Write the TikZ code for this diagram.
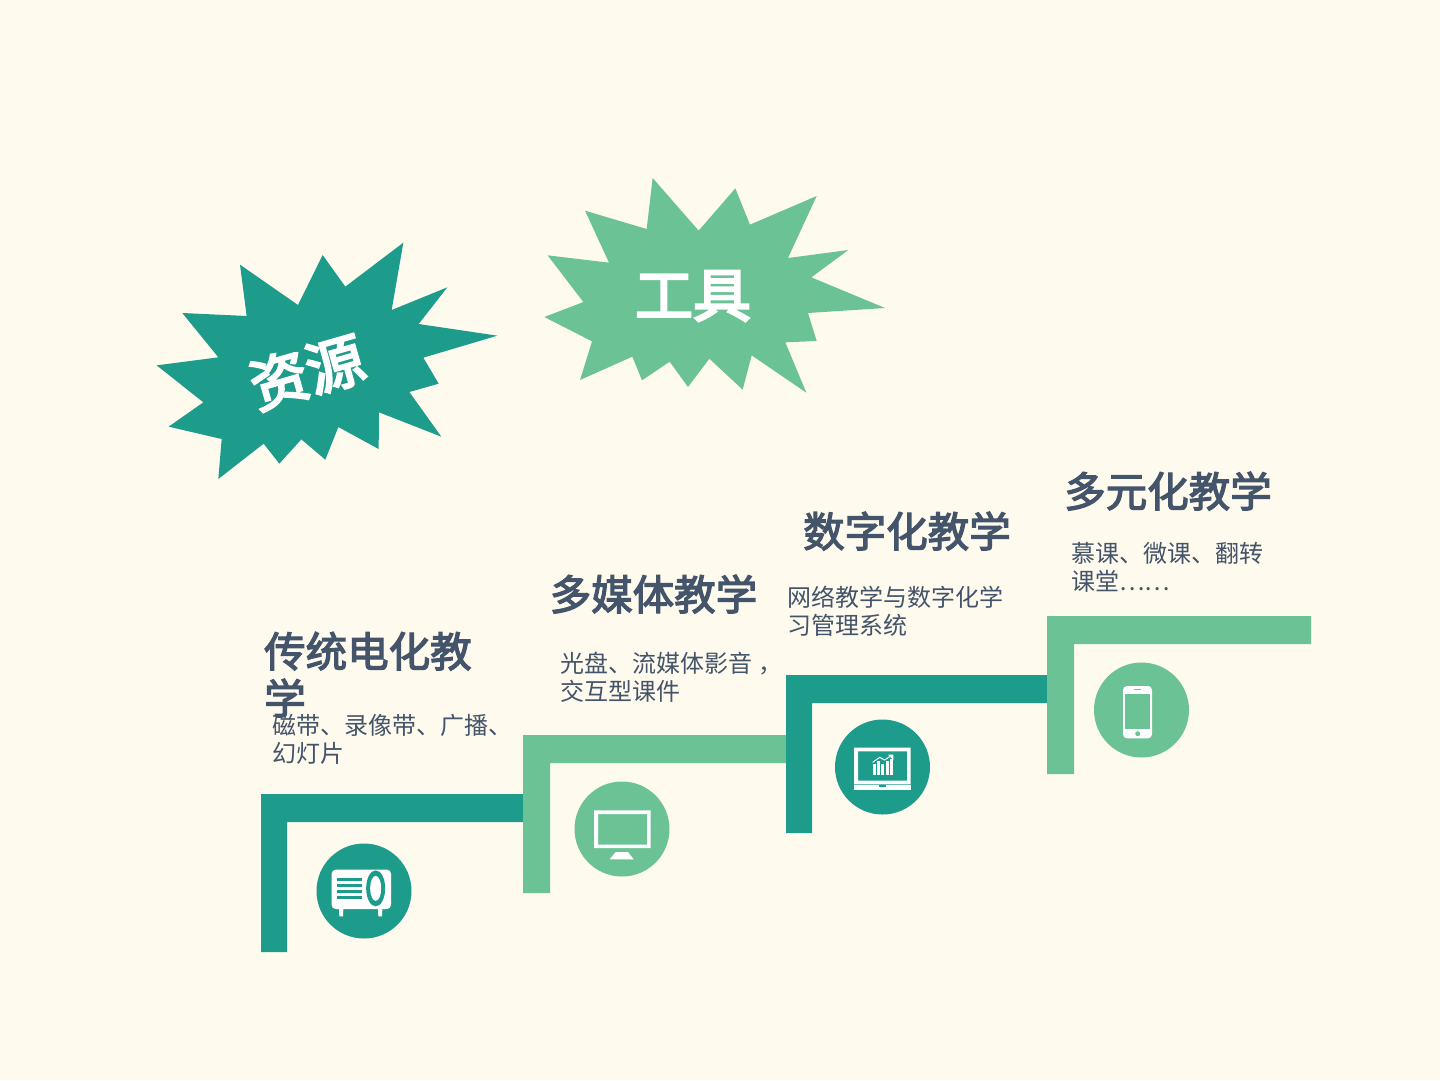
\documentclass[tikz,border=0pt]{standalone}
\usepackage{fontspec}
\setmainfont{Noto Sans CJK SC}
\newfontfamily\fatcjk[FakeBold=3]{Noto Sans CJK SC}
\newfontfamily\fatburst[FakeBold=4]{Noto Sans CJK SC}
\definecolor{bgc}{HTML}{FEFAEE}
\definecolor{teal1}{HTML}{1D9C8B}
\definecolor{green1}{HTML}{6BC295}
\definecolor{ink}{HTML}{44546A}
\tikzset{
  head/.style={anchor=base west,inner sep=0pt,text=ink,font=\fontsize{41.5}{47}\selectfont\fatcjk,align=left},
  body/.style={anchor=base west,inner sep=0pt,text=ink,font=\fontsize{24}{28.5}\selectfont,align=left},
  burst/.style={inner sep=0pt,text=white,font=\fontsize{58}{60}\selectfont\fatburst},
  badge/.style={circle,minimum size=95pt,inner sep=0pt},
  zoomed/.style={x=0.33333pt,y=-0.33333pt}
}
\begin{document}
\begin{tikzpicture}[x=1pt,y=-1pt]
\fill[bgc] (0,0) rectangle (1440,1080);
\useasboundingbox (0,0) rectangle (1440,1080);
% bursts
\begin{scope}[shift={(140,230)},zoomed]
\fill[teal1] (790,38)--(755,240)--(922,172)--(836,282)--(1072,317)--(850,383)--(896,461)--(808,486)--(904,620)--(717,547)--(716,657)--(595,591)--(556,689)--(484,628)--(418,701)--(371,641)--(235,747)--(245,627)--(86,590)--(190,517)--(50,406)--(235,382)--(127,249)--(320,258)--(300,104)--(474,225)--(548,75)--(616,170)--cycle;
\end{scope}
\begin{scope}[shift={(530,170)},zoomed]
\fill[green1] (368,24)--(506,182)--(616,55)--(660,164)--(860,78)--(774,264)--(955,240)--(844,322)--(1065,414)--(834,429)--(860,513)--(766,517)--(829,668)--(665,556)--(638,659)--(538,566)--(474,651)--(419,575)--(336,631)--(307,560)--(150,630)--(186,514)--(43,441)--(160,396)--(53,256)--(237,278)--(165,122)--(350,177)--cycle;
\end{scope}
\node[burst,rotate=16] (ziyuan) at (307,372) {资源};
\node[burst] (gongju) at (693,296) {工具};
% steps
\fill[teal1] (261,952)--(261,794)--(523,794)--(523,822)--(287,822)--(287,952)--cycle;
\fill[green1] (523,893)--(523,735)--(787,735)--(787,763)--(550,763)--(550,893)--cycle;
\fill[teal1] (786,833)--(786,675)--(1048,675)--(1048,703)--(812,703)--(812,833)--cycle;
\fill[green1] (1047,774)--(1047,616)--(1311,616)--(1311,644)--(1074,644)--(1074,774)--cycle;
% badges
\node[badge,fill=teal1] (c1) at (364,891) {};
\node[badge,fill=green1] (c2) at (622,829) {};
\node[badge,fill=teal1] (c3) at (882.5,767) {};
\node[badge,fill=green1] (c4) at (1141.5,710) {};
% projector
\begin{scope}[shift={(310,838)},zoomed]
\fill[white,rounded corners=4pt] (65,95) rectangle (243,213);
\fill[teal1] (197,151) ellipse [x radius=9.5pt,y radius=18pt];
\fill[white] (197,151) ellipse [x radius=5.5pt,y radius=12.5pt];
\foreach \yy in {124,142,160,178} \fill[teal1] (82,\yy-4) rectangle (155,\yy+4);
\fill[white] (87,213)--(100,213)--(99,235)--(88,235)--cycle;
\fill[white] (204,213)--(217,213)--(216,235)--(205,235)--cycle;
\end{scope}
% monitor
\begin{scope}[shift={(568,776)},zoomed]
\fill[white,even odd rule] (78,103) rectangle (248,216) (90,114) rectangle (237,206);
\fill[white] (143,228)--(180,228)--(197,250)--(125,250)--cycle;
\end{scope}
% laptop
\begin{scope}[shift={(828,714)},zoomed]
\fill[white,even odd rule] (78,101) rectangle (248,211) (90,112) rectangle (237,200);
\fill[white] (78,214) rectangle (248,228);
\fill[teal1] (153,214) rectangle (175,219);
\fill[white] (134,150) rectangle (143,184);
\fill[white] (147,142) rectangle (156,184);
\fill[white] (160,150) rectangle (169,184);
\fill[white] (173,140) rectangle (182,184);
\fill[white] (186,134) rectangle (196,184);
\draw[white,line width=1pt] (134,145)--(155,130)--(170,138)--(188,126);
\fill[white] (180,122)--(196,122)--(196,138)--cycle;
\end{scope}
% phone
\begin{scope}[shift={(1088,658)},zoomed]
\fill[white,rounded corners=4pt] (105,84) rectangle (192,241);
\fill[green1] (112,108) rectangle (186,213);
\fill[green1] (138,92) rectangle (160,97);
\fill[green1] (149,227) circle (2.5pt);
\end{scope}
% text
\node[head] (h1) at (264,714) {传统电化教\\学};
\node[head] (h2) at (549.5,610) {多媒体教学};
\node[head] (h3) at (803,547) {数字化教学};
\node[head] (h4) at (1064,507) {多元化教学};
\node[body] (b1) at (272,762.5) {磁带、录像带、广播、\\幻灯片};
\node[body] (b2) at (560,700.5) {光盘、流媒体影音\hspace{6pt}，\\交互型课件};
\node[body] (b3) at (787,634.5) {网络教学与数字化学\\习管理系统};
\node[body] (b4) at (1071,590.5) {慕课、微课、翻转\\课堂……};
\end{tikzpicture}
\end{document}
